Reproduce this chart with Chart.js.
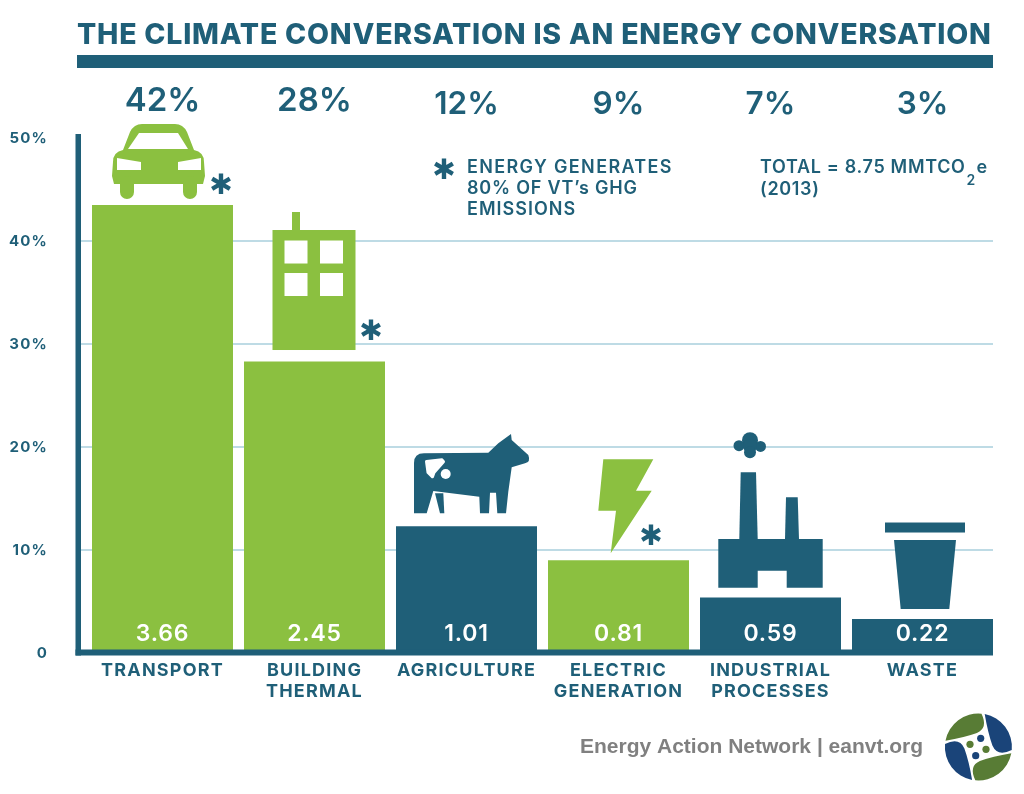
<!DOCTYPE html>
<html>
<head>
<meta charset="utf-8">
<title>The climate conversation is an energy conversation</title>
<script src="https://cdn.jsdelivr.net/npm/chart.js@4"></script>
<style>
  html, body { margin: 0; padding: 0; background: #fff; }
  canvas { display: block; }
</style>
</head>
<body>
<canvas id="chart" width="1024" height="794"></canvas>
<script>
// values
const categories = [["TRANSPORT"], ["BUILDING", "THERMAL"], ["AGRICULTURE"], ["ELECTRIC", "GENERATION"], ["INDUSTRIAL", "PROCESSES"], ["WASTE"]];
const barHeights = [43.5, 28.3, 12.3, 9, 5.4, 3.3];
const shareLabels = ["42%", "28%", "12%", "9%", "7%", "3%"];
const amountLabels = ["3.66", "2.45", "1.01", "0.81", "0.59", "0.22"];
const isEnergy = [true, true, false, true, false, false];
const noteLines = ["ENERGY GENERATES", "80% OF VT\u2019s GHG", "EMISSIONS"];

const TEAL = "#1f5f78";
const GREEN = "#8bc040";
const GRID = "#a9cfdc";
const LOGO_BLUE = "#1a4479";
const LOGO_GREEN = "#587c35";
const FONT = "Inter, 'Noto Sans', sans-serif";

// label tweaks, the two big shares sit higher in the original
const shareY = [101, 101, 105, 105, 105, 105];
const shareSize = [33, 33, 31.5, 31.5, 31.5, 31.5];
const noteSpacing = [1.35, 0.8, 1];

function text(ctx, str, x, y, size, weight, color, align, spacing) {
  ctx.save();
  ctx.font = weight + " " + size + "px " + FONT;
  ctx.fillStyle = color;
  ctx.textAlign = align || "left";
  ctx.textBaseline = "middle";
  ctx.letterSpacing = (spacing || 0) + "px";
  ctx.fillText(str, x, y);
  ctx.restore();
}

function star(ctx, x, y) {
  ctx.save();
  ctx.font = "28px 'DejaVu Sans'";
  ctx.fillStyle = TEAL;
  ctx.textAlign = "center";
  ctx.textBaseline = "middle";
  ctx.fillText("\u2731", x, y);
  ctx.restore();
}

function poly(ctx, pts, color) {
  ctx.fillStyle = color;
  ctx.beginPath();
  pts.forEach((p, i) => (i ? ctx.lineTo(p[0], p[1]) : ctx.moveTo(p[0], p[1])));
  ctx.closePath();
  ctx.fill();
}

function dot(ctx, x, y, r, color) {
  ctx.fillStyle = color;
  ctx.beginPath();
  ctx.arc(x, y, r, 0, Math.PI * 2);
  ctx.fill();
}

// icons are sketched in page pixels, then moved with their bar
function carIcon(ctx) {
  ctx.fillStyle = GREEN;
  ctx.beginPath();
  ctx.moveTo(123, 150);
  ctx.lineTo(130, 132);
  ctx.quadraticCurveTo(134, 124, 142, 124);
  ctx.lineTo(175, 124);
  ctx.quadraticCurveTo(183, 124, 187, 132);
  ctx.lineTo(194, 150);
  ctx.quadraticCurveTo(204, 152, 204, 162);
  ctx.lineTo(205, 176);
  ctx.lineTo(203, 184);
  ctx.lineTo(114, 184);
  ctx.lineTo(112, 176);
  ctx.lineTo(113, 162);
  ctx.quadraticCurveTo(113, 152, 123, 150);
  ctx.closePath();
  ctx.fill();
  ctx.beginPath();
  ctx.roundRect(120, 176, 14, 23, 7);
  ctx.roundRect(183, 176, 14, 23, 7);
  ctx.fill();
  poly(ctx, [[128, 149], [139, 133], [178, 133], [188, 149]], "#fff");
  poly(ctx, [[117, 158], [141, 162], [141, 170], [117, 170]], "#fff");
  poly(ctx, [[178, 162], [201, 158], [201, 170], [178, 170]], "#fff");
}

function buildingIcon(ctx) {
  ctx.fillStyle = GREEN;
  ctx.fillRect(272.5, 230, 83, 120);
  ctx.fillRect(292, 212, 8, 18);
  ctx.fillStyle = "#fff";
  [[284.5, 240.5], [320, 240.5], [284.5, 273], [320, 273]].forEach((w) => ctx.fillRect(w[0], w[1], 23, 23));
}

function cowIcon(ctx) {
  ctx.fillStyle = TEAL;
  ctx.beginPath();
  ctx.moveTo(414, 463);
  ctx.quadraticCurveTo(414, 453.3, 424, 453.3);
  ctx.lineTo(488.3, 452.7);
  ctx.lineTo(498.3, 443.3);
  ctx.lineTo(511, 434);
  ctx.lineTo(511.7, 440);
  ctx.lineTo(528.3, 455);
  ctx.quadraticCurveTo(531, 462, 525, 463.3);
  ctx.lineTo(511.7, 467.3);
  ctx.lineTo(508.3, 491.7);
  ctx.lineTo(506, 513.3);
  ctx.lineTo(497.3, 513.3);
  ctx.lineTo(496, 492.7);
  ctx.lineTo(490, 492.7);
  ctx.lineTo(489, 513.3);
  ctx.lineTo(480, 513.3);
  ctx.lineTo(479.3, 496.7);
  ctx.lineTo(433.3, 491);
  ctx.lineTo(426.7, 513.3);
  ctx.lineTo(414, 513.3);
  ctx.closePath();
  ctx.fill();
  poly(ctx, [[435, 493.3], [443.3, 493.3], [444.3, 513.3], [440, 513.3]], TEAL);
  ctx.save();
  ctx.strokeStyle = "#fff";
  ctx.lineWidth = 3;
  ctx.lineJoin = "round";
  poly(ctx, [[426.5, 461.5], [442, 459.8], [443.5, 461.7], [434, 472.5], [432.5, 476.8], [428, 472.5]], "#fff");
  ctx.stroke();
  ctx.restore();
  dot(ctx, 445.7, 474, 5, "#fff");
}

function boltIcon(ctx) {
  poly(ctx, [[603.3, 459.3], [653.3, 459.3], [636, 490.7], [651.7, 490.7], [610.7, 553.3], [616, 510.7], [598.3, 510.7]], GREEN);
}

function factoryIcon(ctx) {
  poly(ctx, [[718.3, 539], [822.7, 539], [822.7, 587.7], [786.7, 587.7], [786.7, 570.7], [757.7, 570.7], [757.7, 587.7], [718.3, 587.7]], TEAL);
  poly(ctx, [[740.7, 472.3], [756, 472.3], [757.7, 539], [739.3, 539]], TEAL);
  poly(ctx, [[786, 497.3], [797.7, 497.3], [799, 539], [785, 539]], TEAL);
  dot(ctx, 750, 440.3, 8, TEAL);
  dot(ctx, 739, 445.7, 5.5, TEAL);
  dot(ctx, 760.5, 446.5, 5.5, TEAL);
  dot(ctx, 750, 446, 7, TEAL);
  dot(ctx, 750, 452.3, 6, TEAL);
}

function binIcon(ctx) {
  ctx.fillStyle = TEAL;
  ctx.fillRect(885, 522.5, 80, 10);
  poly(ctx, [[894, 540], [956, 540], [949.3, 609], [900.7, 609]], TEAL);
}

const icons = [carIcon, buildingIcon, cowIcon, boltIcon, factoryIcon, binIcon];
const sketchCenters = [162.5, 314.5, 466.5, 618.5, 770.5, 922.5];
const sketchTops = [205, 361.5, 526.3, 560.3, 597.4, 619];
const starOffsets = [[58.5, -18], [56.5, -28.5], null, [32.5, -23], null, null];

function logo(ctx) {
  const r = 33.5;
  ctx.save();
  ctx.translate(978.4, 747);
  // one blade, turned a quarter each time
  [LOGO_GREEN, LOGO_BLUE, LOGO_GREEN, LOGO_BLUE].forEach((c) => {
    ctx.fillStyle = c;
    ctx.beginPath();
    ctx.moveTo(3, -33.4);
    ctx.quadraticCurveTo(10, -19, -1.5, -14);
    ctx.quadraticCurveTo(-14, -9.5, -32.9, -6.3);
    ctx.arc(0, 0, r, Math.atan2(-6.3, -32.9), Math.atan2(-33.4, 3));
    ctx.closePath();
    ctx.fill();
    ctx.rotate(Math.PI / 2);
  });
  ctx.restore();
  dot(ctx, 980.7, 738.3, 3.6, LOGO_BLUE);
  dot(ctx, 970, 744.3, 3.6, LOGO_GREEN);
  dot(ctx, 986, 749.3, 3.6, LOGO_GREEN);
  dot(ctx, 975.7, 755.7, 3.6, LOGO_BLUE);
}

const artwork = {
  id: "artwork",
  beforeDraw(chart) {
    // tick labels of the original are set wide
    chart.ctx.letterSpacing = "1.2px";
  },
  beforeDatasetsDraw(chart) {
    const ctx = chart.ctx;
    const y = chart.scales.y;
    ctx.letterSpacing = "0px";
    ctx.save();
    ctx.strokeStyle = GRID;
    ctx.lineWidth = 1.5;
    y.ticks.forEach((t) => {
      if (t.value === 0 || t.value === 50) return;
      const py = y.getPixelForValue(t.value);
      ctx.beginPath();
      ctx.moveTo(81, py);
      ctx.lineTo(993, py);
      ctx.stroke();
    });
    ctx.restore();
    chart.data.labels.forEach((_, i) => {
      ctx.save();
      ctx.translate(chart.scales.x.getPixelForValue(i) - sketchCenters[i], y.getPixelForValue(barHeights[i]) - sketchTops[i]);
      icons[i](ctx);
      ctx.restore();
    });
  },
  afterDatasetsDraw(chart) {
    const ctx = chart.ctx;
    const x = chart.scales.x;
    const y = chart.scales.y;

    // axes sit on top of the bars
    ctx.fillStyle = TEAL;
    ctx.fillRect(75.5, 134, 5.5, 521.5);
    ctx.fillRect(75.5, 649.5, 917.5, 6);

    // title and rule
    text(ctx, "THE CLIMATE CONVERSATION IS AN ENERGY CONVERSATION", 77, 35, 28.5, 800, TEAL, "left", 0.77);
    ctx.fillStyle = TEAL;
    ctx.fillRect(77, 55, 916, 13);

    shareLabels.forEach((s, i) => {
      text(ctx, s, x.getPixelForValue(i), shareY[i], shareSize[i], 600, TEAL, "center");
      text(ctx, amountLabels[i], x.getPixelForValue(i), 634, 23, 600, "#fff", "center", 0.8);
      if (starOffsets[i]) {
        star(ctx, x.getPixelForValue(i) + starOffsets[i][0], y.getPixelForValue(barHeights[i]) + starOffsets[i][1]);
      }
    });

    // notes
    star(ctx, 444, 172);
    noteLines.forEach((l, i) => text(ctx, l, 467, 168 + i * 21, 18, 600, TEAL, "left", noteSpacing[i]));
    text(ctx, "TOTAL = 8.75 MMTCO", 760, 168, 18, 600, TEAL, "left", 0.67);
    text(ctx, "2", 966.5, 181, 14, 600, TEAL, "left");
    text(ctx, "e", 976.5, 168, 18, 600, TEAL, "left");
    text(ctx, "(2013)", 760, 190, 18, 600, TEAL, "left", 0.67);

    // footer
    ctx.save();
    ctx.font = "bold 21px 'Liberation Sans'";
    ctx.fillStyle = "#808080";
    ctx.textBaseline = "middle";
    ctx.fillText("Energy Action Network | eanvt.org", 580, 747);
    ctx.restore();
    logo(ctx);
  }
};

new Chart(document.getElementById("chart"), {
  type: "bar",
  plugins: [artwork],
  data: {
    labels: categories,
    datasets: [{
      data: barHeights,
      backgroundColor: isEnergy.map((e) => (e ? GREEN : TEAL)),
      barPercentage: 141 / 152,
      categoryPercentage: 1
    }]
  },
  options: {
    responsive: false,
    animation: false,
    layout: { padding: { top: 138, right: 25.5, left: 0, bottom: 0 } },
    plugins: { legend: { display: false }, tooltip: { enabled: false }, title: { display: false } },
    scales: {
      x: {
        afterFit: (s) => { s.height = 141; },
        grid: { display: false, drawTicks: false },
        border: { display: false },
        ticks: {
          padding: 7,
          maxRotation: 0,
          autoSkip: false,
          color: TEAL,
          font: { family: FONT, size: 18, weight: 700, lineHeight: 1.17 }
        }
      },
      y: {
        min: 0,
        max: 50,
        afterFit: (s) => { s.width = 86.5; },
        grid: { display: false, drawTicks: false },
        border: { display: false },
        ticks: {
          stepSize: 10,
          padding: 38.5,
          color: TEAL,
          font: { family: FONT, size: 15, weight: 700 },
          callback: (v) => (v === 0 ? "0" : v + "%")
        }
      }
    }
  }
});
</script>
</body>
</html>
